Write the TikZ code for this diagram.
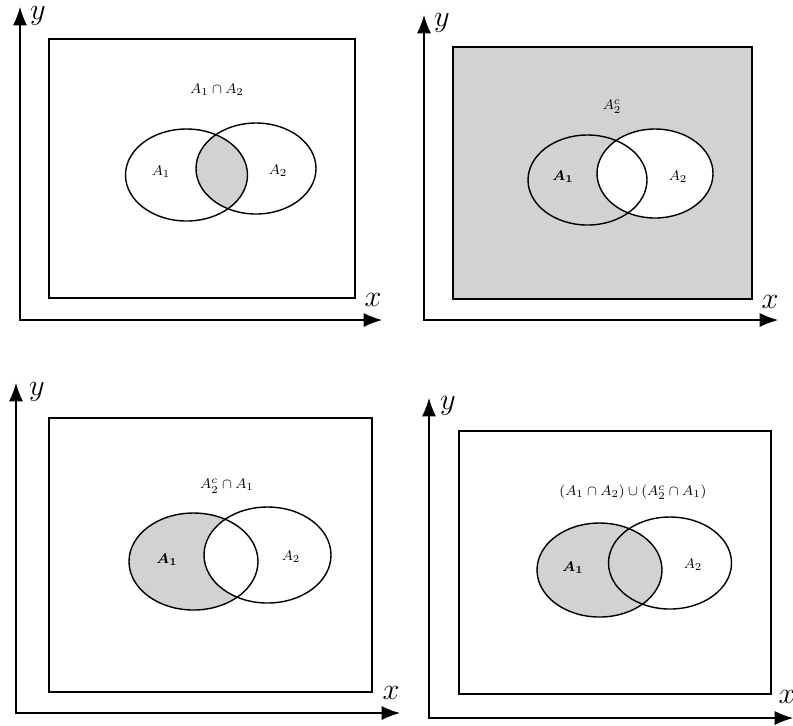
\documentclass[tikz,border=0pt]{standalone}
\usepackage{amsmath}
\usepackage{bm}
\usepackage{xcolor}
\usepackage{tikz}
\usetikzlibrary{arrows.meta}
\definecolor{vennshade}{RGB}{209,210,212}
\tikzset{venn fill/.style={fill=vennshade},small label/.style={font=\footnotesize},axis label/.style={font=\LARGE,inner sep=0pt},set line/.style={line width=0.8pt},frame line/.style={line width=0.7pt},axes/.style={line width=0.6pt,{Latex[length=10.5pt,width=8pt]}-{Latex[length=10.5pt,width=8pt]}}}

\begin{document}
\begin{tikzpicture}[x=0.02cm,y=-0.02cm,small label]
			\useasboundingbox (0,0) rectangle (793,725);
			% top left: A_1 \cap A_2
			\coordinate (Y1) at (20,7);
			\coordinate (X1) at (382,320);
			\coordinate (P1) at (186.5,175);
			\coordinate (Q1) at (256,168.5);
			\begin{scope}
				\clip (P1) ellipse (61 and 46);
				\fill[venn fill] (Q1) ellipse (60 and 45.5);
			\end{scope}
			\draw[frame line] (49,39) rectangle (355,298);
			\draw[set line] (P1) ellipse (61 and 46);
			\draw[set line] (Q1) ellipse (60 and 45.5);
			\draw[axes] (Y1) |- (X1);
			\node[axis label] (y1) at (38,16) {$y$};
			\node[axis label] (x1) at (373,300) {$x$};
			\node (t1) at (217,90) {$A_1\cap A_2$};
			\node (a1) at (161,172) {$A_1$};
			\node (b1) at (278,171) {$A_2$};
			% top right: A_2^c
			\coordinate (Y2) at (424,15);
			\coordinate (X2) at (778,320);
			\coordinate (P2) at (587.5,180);
			\coordinate (Q2) at (655,173.5);
			\fill[venn fill] (453,47) rectangle (752,299);
			\fill[white] (Q2) ellipse (58 and 44.5);
			\draw[frame line] (453,47) rectangle (752,299);
			\draw[set line] (P2) ellipse (59.5 and 45);
			\draw[set line] (Q2) ellipse (58 and 44.5);
			\draw[axes] (Y2) |- (X2);
			\node[axis label] (y2) at (442,23) {$y$};
			\node[axis label] (x2) at (770,302) {$x$};
			\node (t2) at (612,107) {$A_2^c$};
			\node (a2) at (563,177) {$\bm{A_1}$};
			\node (b2) at (678,177) {$A_2$};
			% bottom left: A_2^c \cap A_1
			\coordinate (Y3) at (16,383);
			\coordinate (X3) at (400,713);
			\coordinate (P3) at (193.5,561.5);
			\coordinate (Q3) at (267.5,555);
			\fill[venn fill] (P3) ellipse (64.5 and 48.5);
			\fill[white] (Q3) ellipse (63.5 and 48);
			\draw[frame line] (49,418) rectangle (372,692);
			\draw[set line] (P3) ellipse (64.5 and 48.5);
			\draw[set line] (Q3) ellipse (63.5 and 48);
			\draw[axes] (Y3) |- (X3);
			\node[axis label] (y3) at (37,392) {$y$};
			\node[axis label] (x3) at (391,693) {$x$};
			\node (t3) at (227,486) {$A_2^c\cap A_1$};
			\node (a3) at (167,560) {$\bm{A_1}$};
			\node (b3) at (291,557) {$A_2$};
			% bottom right: (A_1 \cap A_2) \cup (A_2^c \cap A_1)
			\coordinate (Y4) at (429,398);
			\coordinate (X4) at (793,718);
			\coordinate (P4) at (599.5,570);
			\coordinate (Q4) at (670,563);
			\fill[venn fill] (P4) ellipse (62.5 and 47);
			\draw[frame line] (459,431) rectangle (771,694);
			\draw[set line] (P4) ellipse (62.5 and 47);
			\draw[set line] (Q4) ellipse (61.5 and 46);
			\draw[axes] (Y4) |- (X4);
			\node[axis label] (y4) at (448,406) {$y$};
			\node[axis label] (x4) at (787,697) {$x$};
			\node (t4) at (633,492) {$(A_1\cap A_2)\cup(A_2^c\cap A_1)$};
			\node (a4) at (573,568) {$\bm{A_1}$};
			\node (b4) at (693,565) {$A_2$};
		\end{tikzpicture}
\end{document}
